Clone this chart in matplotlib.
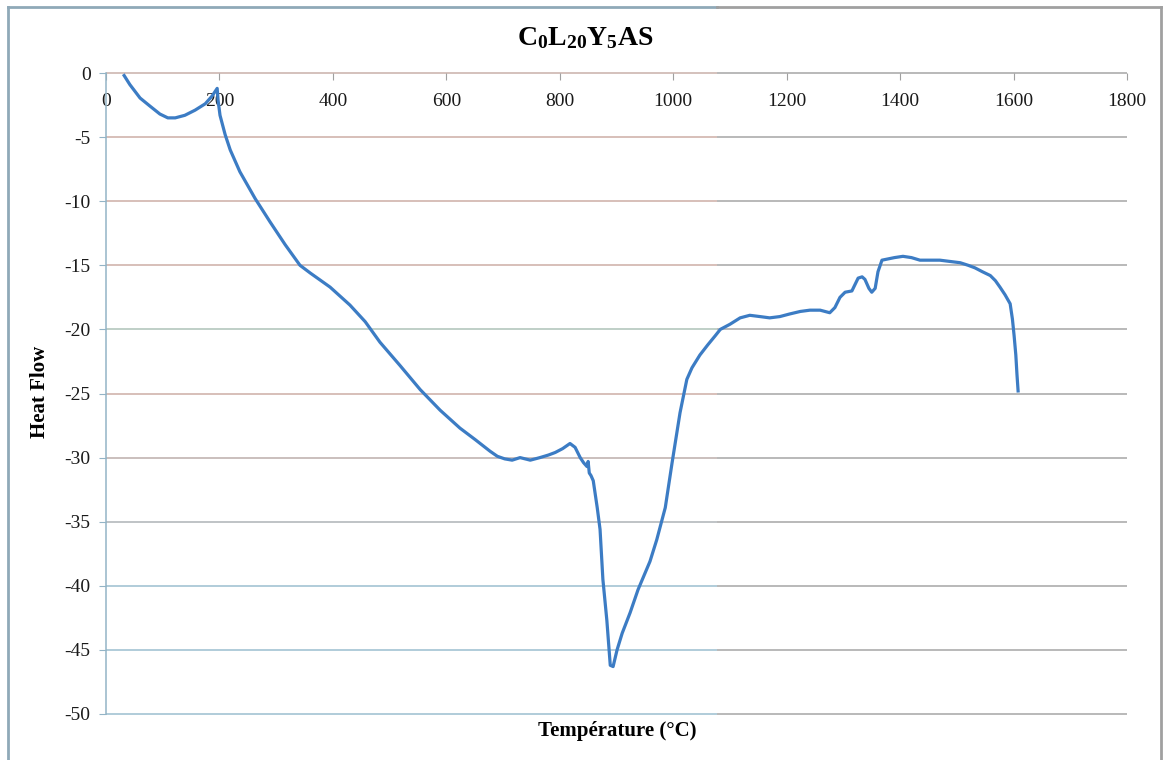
import matplotlib.pyplot as plt
from matplotlib.lines import Line2D

# DSC trace read from the run
temp = [32, 42, 60, 78, 95, 109, 122, 139, 157, 175, 187, 196, 197.5, 201, 210, 219,
        236, 263, 289, 316, 342, 360, 395, 430, 457, 483, 518, 554, 589, 624, 651,
        677, 690, 703, 716, 730, 748, 765, 780, 792, 805, 818, 827, 836, 842, 848,
        850, 852, 855, 859, 866, 871, 876, 883, 889, 894, 901, 910, 924, 938, 959,
        971, 986, 998, 1012, 1024, 1033, 1047, 1061, 1074, 1083, 1100, 1118, 1135,
        1153, 1170, 1188, 1205, 1224, 1241, 1259, 1276, 1285, 1294, 1303, 1315,
        1326, 1333, 1338, 1345, 1350, 1356, 1361, 1368, 1390, 1405, 1420, 1435,
        1452, 1470, 1488, 1506, 1520, 1532, 1545, 1559, 1568, 1576, 1585, 1594,
        1598, 1601, 1604, 1606, 1608]
heat = [-0.2, -0.9, -1.95, -2.6, -3.2, -3.5, -3.5, -3.3, -2.9, -2.4, -1.8, -1.2, -2.1,
        -3.3, -4.8, -6.0, -7.7, -9.8, -11.6, -13.4, -15.0, -15.6, -16.7, -18.1, -19.4,
        -21.0, -22.8, -24.7, -26.3, -27.7, -28.6, -29.5, -29.9, -30.1, -30.2, -30.0,
        -30.2, -30.0, -29.8, -29.6, -29.3, -28.9, -29.2, -30.0, -30.4, -30.7, -30.3,
        -31.2, -31.4, -31.8, -33.9, -35.6, -39.5, -42.7, -46.2, -46.3, -45.0, -43.7,
        -42.1, -40.3, -38.1, -36.4, -33.9, -30.4, -26.5, -23.9, -23.0, -22.0, -21.2,
        -20.5, -20.0, -19.6, -19.1, -18.9, -19.0, -19.1, -19.0, -18.8, -18.6, -18.5,
        -18.5, -18.7, -18.3, -17.5, -17.1, -17.0, -16.0, -15.9, -16.1, -16.8, -17.1,
        -16.8, -15.5, -14.6, -14.4, -14.3, -14.4, -14.6, -14.6, -14.6, -14.7, -14.8,
        -15.0, -15.2, -15.5, -15.8, -16.2, -16.7, -17.3, -18.0, -19.2, -20.5, -22.0,
        -23.5, -24.8]

xticks = [0, 200, 400, 600, 800, 1000, 1200, 1400, 1600, 1800]
yticks = [0, -5, -10, -15, -20, -25, -30, -35, -40, -45, -50]

plt.rcParams['font.family'] = 'Liberation Serif'
plt.rcParams['axes.unicode_minus'] = False
plt.rcParams['mathtext.fontset'] = 'custom'
plt.rcParams['mathtext.bf'] = 'Liberation Serif:bold'
plt.rcParams['mathtext.rm'] = 'Liberation Serif'

fig = plt.figure(figsize=(11.63, 7.6), dpi=100)
ax = fig.add_axes([106 / 1163, 1 - 714 / 760, (1127 - 106) / 1163, (714 - 73) / 760])

ax.set_xlim(0, 1800)
ax.set_ylim(-50, 0)

# grid: tinted on the left part of the plot, plain grey on the right
split = 1077
left_cols = {0: '#c9b0aa', -5: '#cdaea5', -10: '#cdaea5', -15: '#cdaea5',
             -20: '#adc2b8', -25: '#cdaea5', -30: '#bcaeab', -35: '#aeb3b6',
             -40: '#9bbfd0', -45: '#9bbfd0', -50: '#9bbfd0'}
for yv in yticks:
    ax.hlines(yv, 0, split, color=left_cols[yv], lw=1.1, zorder=1, clip_on=False)
    ax.hlines(yv, split, 1800, color='#a6a6a6', lw=1.1, zorder=1, clip_on=False)

ax.plot(temp, heat, color='#3c7cc4', lw=2.3, zorder=3, solid_joinstyle='round')

for s in ['top', 'right', 'bottom']:
    ax.spines[s].set_visible(False)
ax.spines['left'].set_color('#93b4c6')
ax.spines['left'].set_linewidth(1.1)

ax.set_xticks(xticks)
ax.set_yticks(yticks)
ax.xaxis.tick_top()
ax.tick_params(axis='x', direction='in', length=5, color='#a0a0a0', pad=-27,
               labelsize=14, labelcolor='#1a1a1a')
ax.tick_params(axis='y', direction='out', length=5, color='#93b4c6', pad=6,
               labelsize=14, labelcolor='#1a1a1a')

fig.text(40 / 1163, 1 - 392 / 760, 'Heat Flow', fontsize=15, fontweight='bold',
         rotation=90, ha='center', va='center')
fig.text(617 / 1163, 1 - 731 / 760, 'Température (°C)', fontsize=15,
         fontweight='bold', ha='center', va='center')
fig.text(585 / 1163, 1 - 38 / 760, r'$\mathbf{C_{0}L_{20}Y_{5}AS}$', fontsize=20,
         ha='center', va='center')

# outer frame
fl = 8 / 1163
ft = 1 - 7 / 760
fm = 717 / 1163
fr = 1161 / 1163
fig.add_artist(Line2D([fl, fl], [0, ft], color='#8fa9b8', lw=2))
fig.add_artist(Line2D([fl, fm], [ft, ft], color='#8fa9b8', lw=2))
fig.add_artist(Line2D([fm, fr], [ft, ft], color='#a0a0a0', lw=2))
fig.add_artist(Line2D([fr, fr], [0, ft], color='#a0a0a0', lw=2))

fig.savefig('out.png', dpi=100)
